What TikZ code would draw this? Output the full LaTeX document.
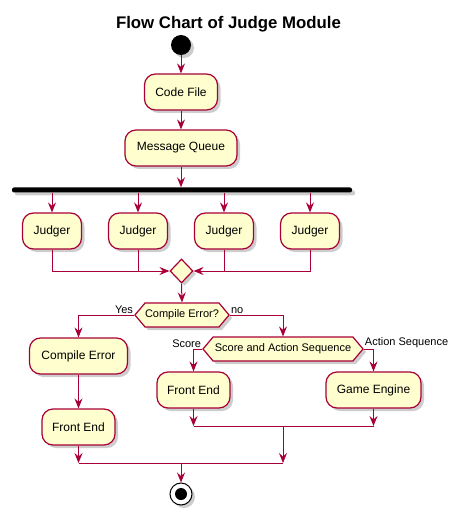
\documentclass[tikz,border=0pt]{standalone}
\usepackage{fontspec}
\setmainfont{Liberation Sans}
\usetikzlibrary{arrows.meta,shapes.geometric,shapes.symbols,shadows}
\definecolor{edge}{HTML}{A80036}
\definecolor{boxfill}{HTML}{FEFECE}

\begin{document}
\begin{tikzpicture}[x=1pt,y=-1pt,
  shade/.style={drop shadow={shadow xshift=3pt,shadow yshift=-3pt,opacity=0.28,fill=black!70}},
  act/.style={draw=edge,fill=boxfill,line width=1.2pt,rounded corners=11pt,
    minimum height=36pt,inner sep=0pt,font=\fontsize{12}{14}\selectfont,shade},
  decide/.style={signal,signal to=east and west,signal from=nowhere,signal pointer angle=100,
    draw=edge,fill=boxfill,line width=1.2pt,minimum height=24pt,inner sep=0pt,
    font=\fontsize{11}{13}\selectfont,shade},
  merger/.style={diamond,draw=edge,fill=boxfill,line width=1.2pt,minimum width=23pt,
    minimum height=24pt,inner sep=0pt,shade},
  flow/.style={draw=edge,line width=1pt},
  arr/.style={flow,-{Stealth[length=10pt,width=8pt,inset=3.5pt]}},
  lbl/.style={font=\fontsize{11}{13}\selectfont,inner sep=1pt}]

\useasboundingbox (0,0) rectangle (457,521);

\node[font=\fontsize{16.8}{20}\selectfont\bfseries] (title) at (228.5,24) {Flow Chart of Judge Module};

% start
\node[circle,fill=black,minimum size=20pt,inner sep=0pt,shade] (start) at (181,45) {};

\node[act,minimum width=73pt] (code) at (181,92) {Code File};
\node[act,minimum width=112pt] (mq) at (181,148) {Message Queue};

% fork bar
\node[fill=black,minimum width=340pt,minimum height=5pt,inner sep=0pt,rounded corners=2pt,shade] (bar) at (182,190) {};

\node[act,minimum width=59pt] (j1) at (52,231) {Judger};
\node[act,minimum width=59pt] (j2) at (138,231) {Judger};
\node[act,minimum width=59pt] (j3) at (224,231) {Judger};
\node[act,minimum width=59pt] (j4) at (310,231) {Judger};

\node[merger] (merge) at (181.5,271) {};

\node[decide,minimum width=94pt] (d1) at (182,315) {Compile Error?};
\node[act,minimum width=98pt] (ce) at (78.5,356) {Compile Error};
\node[act,minimum width=73pt] (fe0) at (78.5,427) {Front End};

\node[decide,minimum width=160pt] (d2) at (283,349) {Score and Action Sequence};
\node[act,minimum width=73pt] (fe1) at (193.5,390) {Front End};
\node[act,minimum width=95pt] (ge) at (373.5,390) {Game Engine};

% end
\node[circle,draw=black,fill=white,line width=1pt,minimum size=22pt,inner sep=0pt,shade] (stop) at (181,494) {};
\node[circle,fill=black,minimum size=12pt,inner sep=0pt] (stopdot) at (stop.center) {};

% junction points
\coordinate (inner) at (283,426);
\coordinate (outer) at (181,463);

% connectors
\draw[arr] (start) -- (code);
\draw[arr] (code) -- (mq);
\draw[arr] (mq.south) -- (mq.south |- bar.north);
\foreach \j in {j1,j2,j3,j4} \draw[arr] (\j |- bar.south) -- (\j.north);

\draw[arr] (j1.south) |- (merge.west);
\draw[flow] (j2.south) -- (j2 |- merge.west);
\draw[arr] (j4.south) |- (merge.east);
\draw[flow] (j3.south) -- (j3 |- merge.east);
\draw[arr] (merge.south) -- (d1.north);

\draw[arr] (d1.west) -| (ce.north);
\node[lbl,anchor=south east] (yes) at (d1.west) {Yes};
\draw[arr] (d1.east) -| (d2.north);
\node[lbl,anchor=south west] (no) at (d1.east) {no};

\draw[arr] (d2.west) -| (fe1.north);
\node[lbl,anchor=south east] (score) at (d2.west) {Score};
\draw[arr] (d2.east) -| (ge.north);
\node[lbl,anchor=south west] (action) at (d2.east) {Action Sequence};

\draw[arr] (ce) -- (fe0);

\draw[arr] (fe1.south) -- (fe1.south |- inner);
\draw[arr] (ge.south) -- (ge.south |- inner);
\draw[flow] (fe1.south |- inner) -- (ge.south |- inner);
\draw[arr] (inner) -- (inner |- outer);

\draw[arr] (fe0.south) -- (fe0.south |- outer);
\draw[flow] (fe0.south |- outer) -- (inner |- outer);
\draw[arr] (outer) -- (stop.north);

\end{tikzpicture}
\end{document}
